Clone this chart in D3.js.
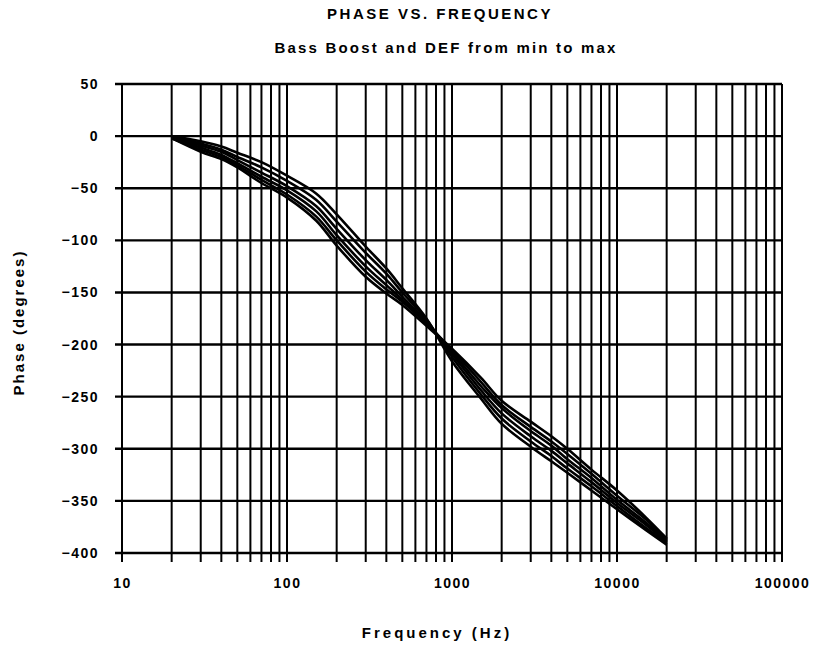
<!DOCTYPE html>
<html>
<head>
<meta charset="utf-8">
<script src="https://cdn.jsdelivr.net/npm/d3@7"></script>
<style>
  body{margin:0;background:#fff;}
  text{font-family:"Liberation Sans",Arial,sans-serif;font-weight:bold;fill:#000;}
</style>
</head>
<body>
<svg id="svg"></svg>
<script>
const freqs = [20, 30, 40, 50, 70, 100, 150, 200, 300, 400, 500, 700, 1000, 1500, 2000, 3000, 4000, 5000, 7000, 10000, 15000, 20000]

// phase (degrees), one list per setting
const curve1 = [0, -5, -10, -16, -25, -38, -55, -75, -106, -127, -146, -175, -216, -252, -276, -298, -312, -323, -340, -358, -378, -392]
const curve2 = [-1, -7, -13, -20, -30, -43, -61, -82, -112, -132, -150, -176, -212, -248, -271, -293, -307, -319, -336, -355, -376, -390]
const curve3 = [-1, -9, -15, -23, -35, -48, -67, -89, -119, -138, -154, -178, -209, -244, -266, -288, -302, -314, -332, -352, -373, -389]
const curve4 = [-2, -11, -18, -26, -39, -52, -72, -95, -125, -143, -157, -179, -207, -240, -261, -283, -297, -310, -328, -349, -371, -388]
const curve5 = [-2, -13, -20, -28, -42, -56, -77, -100, -130, -147, -159, -180, -205, -236, -258, -279, -293, -305, -324, -345, -368, -387]
const curve6 = [-2, -15, -22, -30, -45, -59, -81, -105, -135, -151, -162, -182, -204, -232, -254, -274, -288, -300, -320, -340, -366, -386]

const yTicks = [50, 0, -50, -100, -150, -200, -250, -300, -350, -400]
const xLabels = [10, 100, 1000, 10000, 100000]

const w = 820
const h = 646
const mLeft = 122, mRight = 782, mTop = 84, mBottom = 553

const svg = d3.select('#svg')
  .attr('width', w)
  .attr('height', h)

const x = d3.scaleLog().domain([10, 100000]).range([mLeft, mRight])
const y = d3.scaleLinear().domain([-400, 50]).range([mBottom, mTop])

// every 1..9 line of each decade
const vLines = []
xLabels.forEach(d => {
  for (let k = 1; k <= 9; k++) {
    if (d * k <= 100000) vLines.push(d * k)
  }
})

// vertical grid, ticks poke out below the bottom line
svg.append('g')
  .selectAll('line')
  .data(vLines)
  .enter()
  .append('line')
  .attr('x1', d => x(d))
  .attr('x2', d => x(d))
  .attr('y1', y(50))
  .attr('y2', y(-400) + 9)
  .attr('stroke', '#000')
  .attr('stroke-width', 2)

// horizontal grid, sticks out a bit to the left
svg.append('g')
  .selectAll('line')
  .data(yTicks)
  .enter()
  .append('line')
  .attr('x1', x(10) - 7)
  .attr('x2', x(100000))
  .attr('y1', d => y(d))
  .attr('y2', d => y(d))
  .attr('stroke', '#000')
  .attr('stroke-width', 2.4)

// y labels
svg.append('g')
  .attr('transform', `translate(${mLeft},0)`)
  .call(d3.axisLeft(y).tickValues(yTicks).tickSize(7).tickPadding(16)
    .tickFormat(d => d < 0 ? '\u2212' + Math.abs(d) : d))
  .call(g => g.select('.domain').remove())
  .call(g => g.selectAll('line').remove())
  .selectAll('text')
  .attr('font-size', 14)
  .attr('font-family', '"Liberation Sans",Arial,sans-serif')
  .attr('font-weight', 'bold')
  .attr('letter-spacing', 1.5)

// x labels
svg.append('g')
  .attr('transform', `translate(0,${mBottom})`)
  .call(d3.axisBottom(x).tickValues(xLabels).tickSize(9).tickPadding(16).tickFormat(d3.format('d')))
  .call(g => g.select('.domain').remove())
  .call(g => g.selectAll('line').remove())
  .selectAll('text')
  .attr('font-size', 14)
  .attr('font-family', '"Liberation Sans",Arial,sans-serif')
  .attr('font-weight', 'bold')
  .attr('letter-spacing', 1.5)

// curves
const series = [curve1, curve2, curve3, curve4, curve5, curve6]
const line = d3.line()
  .x((d, i) => x(freqs[i]))
  .y(d => y(d))
  .curve(d3.curveCatmullRom.alpha(0.5))

svg.append('g')
  .selectAll('path')
  .data(series)
  .enter()
  .append('path')
  .attr('d', line)
  .attr('fill', 'none')
  .attr('stroke', '#000')
  .attr('stroke-width', 2.6)

// titles
svg.append('text')
  .attr('x', 440).attr('y', 19)
  .attr('text-anchor', 'middle')
  .attr('font-size', 15)
  .attr('letter-spacing', 2.5)
  .text('PHASE VS. FREQUENCY')

svg.append('text')
  .attr('x', 446).attr('y', 53)
  .attr('text-anchor', 'middle')
  .attr('font-size', 15)
  .attr('letter-spacing', 2.2)
  .text('Bass Boost and DEF from min to max')

svg.append('text')
  .attr('x', 437).attr('y', 638)
  .attr('text-anchor', 'middle')
  .attr('font-size', 15)
  .attr('letter-spacing', 3)
  .text('Frequency (Hz)')

svg.append('text')
  .attr('transform', `translate(24,${(mTop + mBottom) / 2 + 4}) rotate(-90)`)
  .attr('text-anchor', 'middle')
  .attr('font-size', 15)
  .attr('letter-spacing', 2)
  .text('Phase (degrees)')
</script>
</body>
</html>
